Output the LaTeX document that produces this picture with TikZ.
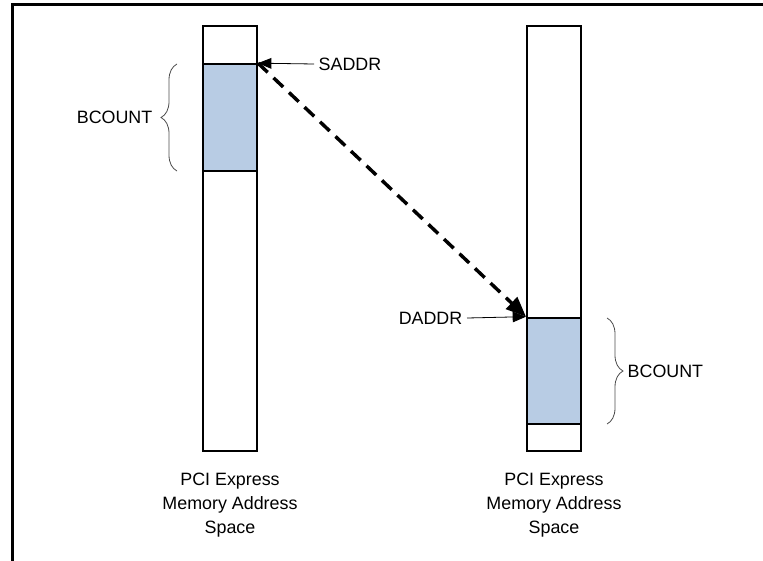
\documentclass[tikz,border=0pt]{standalone}
\usepackage{fontspec}
\setmainfont{Liberation Sans}
\usepackage{tikz}
\usetikzlibrary{positioning, arrows.meta, decorations.pathreplacing}
\definecolor{blkblue}{RGB}{184,204,228}

\begin{document}
\begin{tikzpicture}[x=0.75pt, y=-0.75pt,
		every node/.style={font=\fontsize{13.4}{18}\selectfont},
		memcol/.style={draw, line width=1.5pt, inner sep=0pt, minimum width=40.5pt, minimum height=318.75pt},
		memblk/.style={draw, line width=1.5pt, fill=blkblue, inner sep=0pt, minimum width=40.5pt, minimum height=80pt},
		ptr/.style={-{Triangle[length=10pt, width=8pt]}, line width=0.6pt},
		brc/.style={decorate, decoration={brace, amplitude=12pt}, line width=0.6pt, gray!60!black},
		caption/.style={align=center}]
	
	\useasboundingbox (0,0) rectangle (763,560);
	
	% outer frame
	\draw[line width=2.25pt] (12,562) -- (12,5) -- (765,5);
	
	% Source side
	\node[memcol] (srccol) at (230,238.5) {};
	\node[memblk] (srcblk) at (230,117.5) {};
	\draw[brc] (177,171) -- (177,64);
	\node[anchor=east] (srccnt) at (157,117.5) {BCOUNT};
	\node[anchor=west] (saddr) at (314,64) {SADDR};
	\draw[ptr] (saddr.west) -- (srcblk.north east);
	\node[caption, below=12pt of srccol] (srccap) {PCI Express\\Memory Address\\Space};
	
	% Destination side
	\node[memcol] (dstcol) at (554,238.5) {};
	\node[memblk] (dstblk) at (554,371) {};
	\draw[brc] (607,318) -- (607,424);
	\node[anchor=west] (dstcnt) at (623,371) {BCOUNT};
	\node[anchor=east] (daddr) at (467,318) {DADDR};
	\draw[ptr] (daddr.east) -- (dstblk.north west);
	\node[caption, below=12pt of dstcol] (dstcap) {PCI Express\\Memory Address\\Space};
	
	% Transfer
	\draw[-{Triangle[length=15pt, width=12pt]}, line width=2.6pt, dash pattern=on 10pt off 6pt] (srcblk.north east) -- (dstblk.north west);
	
\end{tikzpicture}
\end{document}
